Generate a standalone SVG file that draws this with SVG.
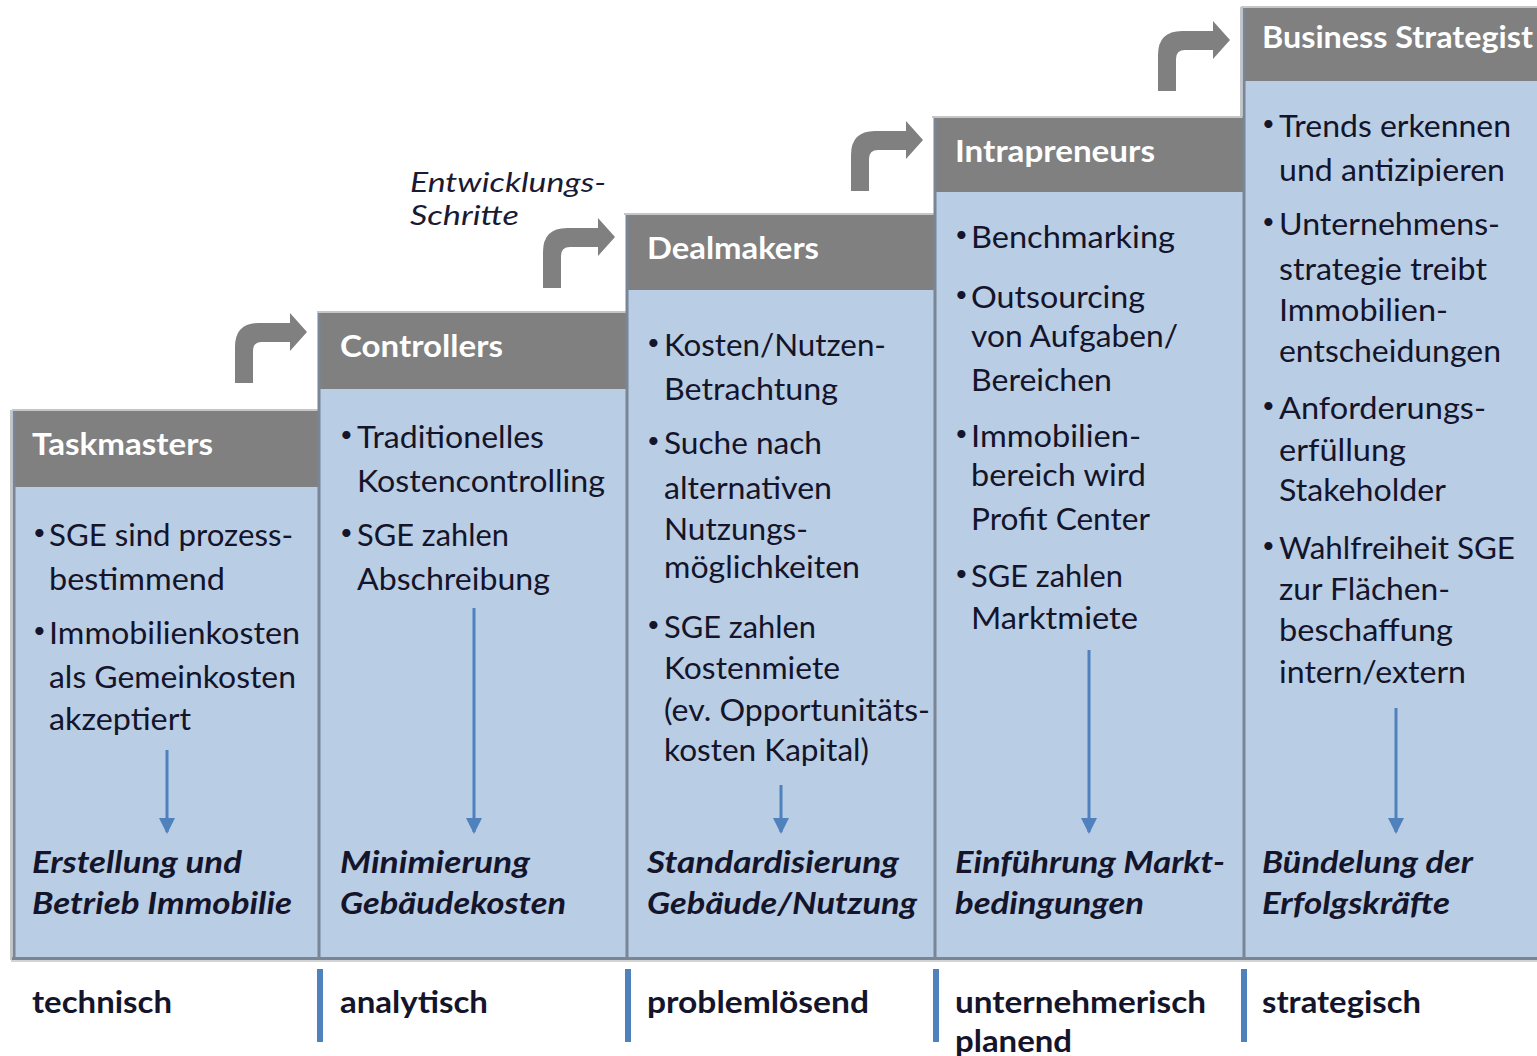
<svg xmlns="http://www.w3.org/2000/svg" width="1537" height="1056" viewBox="0 0 1537 1056">
  <style>
    .hdr { fill: #808080; }
    .body { fill: #b9cde5; }
    .edge { stroke: #c6c6c6; stroke-width: 2; fill: none; }
    .div { stroke: #7a8596; stroke-width: 3; }
    .sep { fill: #4f81bd; }
    .ht { font-family: Lato, "Open Sans", sans-serif; font-weight: bold; font-size: 30px; fill: #ffffff; }
    .t { font-family: Lato, "Open Sans", sans-serif; font-size: 30px; fill: #14142a; }
    .bul { font-family: Lato, "Open Sans", sans-serif; font-size: 22px; fill: #14142a; }
    .res { font-family: Lato, "Open Sans", sans-serif; font-size: 30px; font-weight: bold; font-style: italic; fill: #14142a; }
    .lvl { font-family: Lato, "Open Sans", sans-serif; font-size: 30px; font-weight: bold; fill: #14142a; }
    .note { font-family: Lato, "Open Sans", sans-serif; font-size: 27px; font-style: italic; fill: #1a1a33; }
    .step { fill: #808080; }
    .down { stroke: #4f81bd; stroke-width: 3; fill: none; }
  </style>
  <defs>
    <marker id="ah" markerUnits="userSpaceOnUse" markerWidth="16" markerHeight="16" viewBox="0 0 16 16" refX="14" refY="8" orient="auto">
      <path d="M0,0 L16,8 L0,16 Z" fill="#4f81bd"/>
    </marker>
    <!-- bent step arrow, origin at top-left of its bounding box -->
    <path id="stepArrow" d="M0,70 L0,34 Q0,10 24,10 L55,10 L55,0 L72,19 L55,38 L55,29 L27,29 Q18,29 18,38 L18,70 Z"/>
  </defs>

  <!-- column bodies and headers -->
  <g id="col-taskmasters">
    <rect class="body" x="13" y="487" width="306" height="471"/>
    <rect class="hdr" x="13" y="411" width="306" height="76"/>
    <line class="edge" x1="12" y1="410" x2="319" y2="410"/>
    <line class="edge" x1="11" y1="410" x2="11" y2="960"/>
    <line class="div" x1="14" y1="411" x2="14" y2="958"/>
    <text class="ht" x="32" y="455" textLength="181" lengthAdjust="spacingAndGlyphs">Taskmasters</text>
    <text class="bul" x="33" y="540">•</text>
    <text class="t" x="49" y="546" textLength="244" lengthAdjust="spacingAndGlyphs">SGE sind prozess-</text>
    <text class="t" x="49" y="590" textLength="176" lengthAdjust="spacingAndGlyphs">bestimmend</text>
    <text class="bul" x="33" y="638">•</text>
    <text class="t" x="49" y="644" textLength="251" lengthAdjust="spacingAndGlyphs">Immobilienkosten</text>
    <text class="t" x="49" y="688" textLength="247" lengthAdjust="spacingAndGlyphs">als Gemeinkosten</text>
    <text class="t" x="49" y="730" textLength="142" lengthAdjust="spacingAndGlyphs">akzeptiert</text>
    <text class="res" x="32" y="873" textLength="210" lengthAdjust="spacingAndGlyphs">Erstellung und</text>
    <text class="res" x="32" y="914" textLength="260" lengthAdjust="spacingAndGlyphs">Betrieb Immobilie</text>
    <text class="lvl" x="32" y="1013" textLength="140" lengthAdjust="spacingAndGlyphs">technisch</text>
  </g>

  <g id="col-controllers">
    <rect class="body" x="319" y="389" width="308" height="569"/>
    <rect class="hdr" x="319" y="313" width="308" height="76"/>
    <line class="edge" x1="317" y1="312" x2="627" y2="312"/>
    <line class="div" x1="319" y1="313" x2="319" y2="958"/>
    <text class="ht" x="340" y="357" textLength="163" lengthAdjust="spacingAndGlyphs">Controllers</text>
    <text class="bul" x="340" y="442">•</text>
    <text class="t" x="357" y="448" textLength="187" lengthAdjust="spacingAndGlyphs">Traditionelles</text>
    <text class="t" x="357" y="492" textLength="248" lengthAdjust="spacingAndGlyphs">Kostencontrolling</text>
    <text class="bul" x="340" y="540">•</text>
    <text class="t" x="357" y="546" textLength="152" lengthAdjust="spacingAndGlyphs">SGE zahlen</text>
    <text class="t" x="357" y="590" textLength="193" lengthAdjust="spacingAndGlyphs">Abschreibung</text>
    <text class="res" x="340" y="873" textLength="190" lengthAdjust="spacingAndGlyphs">Minimierung</text>
    <text class="res" x="340" y="914" textLength="226" lengthAdjust="spacingAndGlyphs">Gebäudekosten</text>
    <rect class="sep" x="317" y="969" width="6" height="73"/>
    <text class="lvl" x="340" y="1013" textLength="148" lengthAdjust="spacingAndGlyphs">analytisch</text>
  </g>

  <g id="col-dealmakers">
    <rect class="body" x="626" y="290" width="309" height="668"/>
    <rect class="hdr" x="626" y="215" width="309" height="75"/>
    <line class="edge" x1="624" y1="214" x2="935" y2="214"/>
    <line class="div" x1="627" y1="215" x2="627" y2="958"/>
    <text class="ht" x="647" y="259" textLength="172" lengthAdjust="spacingAndGlyphs">Dealmakers</text>
    <text class="bul" x="647" y="350">•</text>
    <text class="t" x="664" y="356" textLength="222" lengthAdjust="spacingAndGlyphs">Kosten/Nutzen-</text>
    <text class="t" x="664" y="400" textLength="174" lengthAdjust="spacingAndGlyphs">Betrachtung</text>
    <text class="bul" x="647" y="448">•</text>
    <text class="t" x="664" y="454" textLength="158" lengthAdjust="spacingAndGlyphs">Suche nach</text>
    <text class="t" x="664" y="499" textLength="168" lengthAdjust="spacingAndGlyphs">alternativen</text>
    <text class="t" x="664" y="540" textLength="144" lengthAdjust="spacingAndGlyphs">Nutzungs-</text>
    <text class="t" x="664" y="578" textLength="196" lengthAdjust="spacingAndGlyphs">möglichkeiten</text>
    <text class="bul" x="647" y="632">•</text>
    <text class="t" x="664" y="638" textLength="152" lengthAdjust="spacingAndGlyphs">SGE zahlen</text>
    <text class="t" x="664" y="679" textLength="176" lengthAdjust="spacingAndGlyphs">Kostenmiete</text>
    <text class="t" x="664" y="721" textLength="266" lengthAdjust="spacingAndGlyphs">(ev. Opportunitäts-</text>
    <text class="t" x="664" y="761" textLength="205" lengthAdjust="spacingAndGlyphs">kosten Kapital)</text>
    <text class="res" x="647" y="873" textLength="252" lengthAdjust="spacingAndGlyphs">Standardisierung</text>
    <text class="res" x="647" y="914" textLength="270" lengthAdjust="spacingAndGlyphs">Gebäude/Nutzung</text>
    <rect class="sep" x="625" y="969" width="6" height="73"/>
    <text class="lvl" x="647" y="1013" textLength="222" lengthAdjust="spacingAndGlyphs">problemlösend</text>
  </g>

  <g id="col-intrapreneurs">
    <rect class="body" x="934" y="192" width="309" height="766"/>
    <rect class="hdr" x="934" y="118" width="309" height="74"/>
    <line class="edge" x1="932" y1="117" x2="1243" y2="117"/>
    <line class="div" x1="935" y1="118" x2="935" y2="958"/>
    <text class="ht" x="955" y="162" textLength="200" lengthAdjust="spacingAndGlyphs">Intrapreneurs</text>
    <text class="bul" x="955" y="242">•</text>
    <text class="t" x="971" y="248" textLength="204" lengthAdjust="spacingAndGlyphs">Benchmarking</text>
    <text class="bul" x="955" y="302">•</text>
    <text class="t" x="971" y="308" textLength="174" lengthAdjust="spacingAndGlyphs">Outsourcing</text>
    <text class="t" x="971" y="347" textLength="207" lengthAdjust="spacingAndGlyphs">von Aufgaben/</text>
    <text class="t" x="971" y="391" textLength="141" lengthAdjust="spacingAndGlyphs">Bereichen</text>
    <text class="bul" x="955" y="441">•</text>
    <text class="t" x="971" y="447" textLength="170" lengthAdjust="spacingAndGlyphs">Immobilien-</text>
    <text class="t" x="971" y="486" textLength="175" lengthAdjust="spacingAndGlyphs">bereich wird</text>
    <text class="t" x="971" y="530" textLength="179" lengthAdjust="spacingAndGlyphs">Profit Center</text>
    <text class="bul" x="955" y="581">•</text>
    <text class="t" x="971" y="587" textLength="152" lengthAdjust="spacingAndGlyphs">SGE zahlen</text>
    <text class="t" x="971" y="629" textLength="167" lengthAdjust="spacingAndGlyphs">Marktmiete</text>
    <text class="res" x="955" y="873" textLength="270" lengthAdjust="spacingAndGlyphs">Einführung Markt-</text>
    <text class="res" x="955" y="914" textLength="189" lengthAdjust="spacingAndGlyphs">bedingungen</text>
    <rect class="sep" x="933" y="969" width="6" height="73"/>
    <text class="lvl" x="955" y="1013" textLength="251" lengthAdjust="spacingAndGlyphs">unternehmerisch</text>
    <text class="lvl" x="955" y="1052" textLength="117" lengthAdjust="spacingAndGlyphs">planend</text>
  </g>

  <g id="col-business-strategist">
    <rect class="body" x="1243" y="81" width="294" height="877"/>
    <rect class="hdr" x="1243" y="8" width="294" height="73"/>
    <line class="edge" x1="1241" y1="7" x2="1537" y2="7"/>
    <line class="edge" x1="1241" y1="7" x2="1241" y2="117"/>
    <line class="div" x1="1244" y1="8" x2="1244" y2="958"/>
    <text class="ht" x="1262" y="48" textLength="271" lengthAdjust="spacingAndGlyphs">Business Strategist</text>
    <text class="bul" x="1262" y="131">•</text>
    <text class="t" x="1279" y="137" textLength="232" lengthAdjust="spacingAndGlyphs">Trends erkennen</text>
    <text class="t" x="1279" y="181" textLength="226" lengthAdjust="spacingAndGlyphs">und antizipieren</text>
    <text class="bul" x="1262" y="229">•</text>
    <text class="t" x="1279" y="235" textLength="221" lengthAdjust="spacingAndGlyphs">Unternehmens-</text>
    <text class="t" x="1279" y="280" textLength="208" lengthAdjust="spacingAndGlyphs">strategie treibt</text>
    <text class="t" x="1279" y="321" textLength="169" lengthAdjust="spacingAndGlyphs">Immobilien-</text>
    <text class="t" x="1279" y="362" textLength="222" lengthAdjust="spacingAndGlyphs">entscheidungen</text>
    <text class="bul" x="1262" y="413">•</text>
    <text class="t" x="1279" y="419" textLength="207" lengthAdjust="spacingAndGlyphs">Anforderungs-</text>
    <text class="t" x="1279" y="461" textLength="127" lengthAdjust="spacingAndGlyphs">erfüllung</text>
    <text class="t" x="1279" y="501" textLength="167" lengthAdjust="spacingAndGlyphs">Stakeholder</text>
    <text class="bul" x="1262" y="553">•</text>
    <text class="t" x="1279" y="559" textLength="236" lengthAdjust="spacingAndGlyphs">Wahlfreiheit SGE</text>
    <text class="t" x="1279" y="600" textLength="171" lengthAdjust="spacingAndGlyphs">zur Flächen-</text>
    <text class="t" x="1279" y="641" textLength="174" lengthAdjust="spacingAndGlyphs">beschaffung</text>
    <text class="t" x="1279" y="683" textLength="187" lengthAdjust="spacingAndGlyphs">intern/extern</text>
    <text class="res" x="1262" y="873" textLength="211" lengthAdjust="spacingAndGlyphs">Bündelung der</text>
    <text class="res" x="1262" y="914" textLength="188" lengthAdjust="spacingAndGlyphs">Erfolgskräfte</text>
    <rect class="sep" x="1241" y="969" width="6" height="73"/>
    <text class="lvl" x="1262" y="1013" textLength="159" lengthAdjust="spacingAndGlyphs">strategisch</text>
  </g>

  <!-- baseline under all columns -->
  <g id="baseline">
    <line x1="12" y1="958.5" x2="1537" y2="958.5" stroke="#7a8596" stroke-width="3"/>
    <line x1="11" y1="961" x2="1537" y2="961" stroke="#d4d4d4" stroke-width="2"/>
  </g>

  <g id="label-steps">
    <text class="note" x="410" y="192" textLength="196" lengthAdjust="spacingAndGlyphs">Entwicklungs-</text>
    <text class="note" x="410" y="225" textLength="109" lengthAdjust="spacingAndGlyphs">Schritte</text>
  </g>

  <g id="connectors">
    <use href="#stepArrow" class="step" x="235" y="313"/>
    <use href="#stepArrow" class="step" x="543" y="218"/>
    <use href="#stepArrow" class="step" x="851" y="121"/>
    <use href="#stepArrow" class="step" x="1158" y="21"/>
    <line class="down" x1="167" y1="750" x2="167" y2="832" marker-end="url(#ah)"/>
    <line class="down" x1="474" y1="608" x2="474" y2="832" marker-end="url(#ah)"/>
    <line class="down" x1="781" y1="785" x2="781" y2="832" marker-end="url(#ah)"/>
    <line class="down" x1="1089" y1="650" x2="1089" y2="832" marker-end="url(#ah)"/>
    <line class="down" x1="1396" y1="708" x2="1396" y2="832" marker-end="url(#ah)"/>
  </g>
</svg>
